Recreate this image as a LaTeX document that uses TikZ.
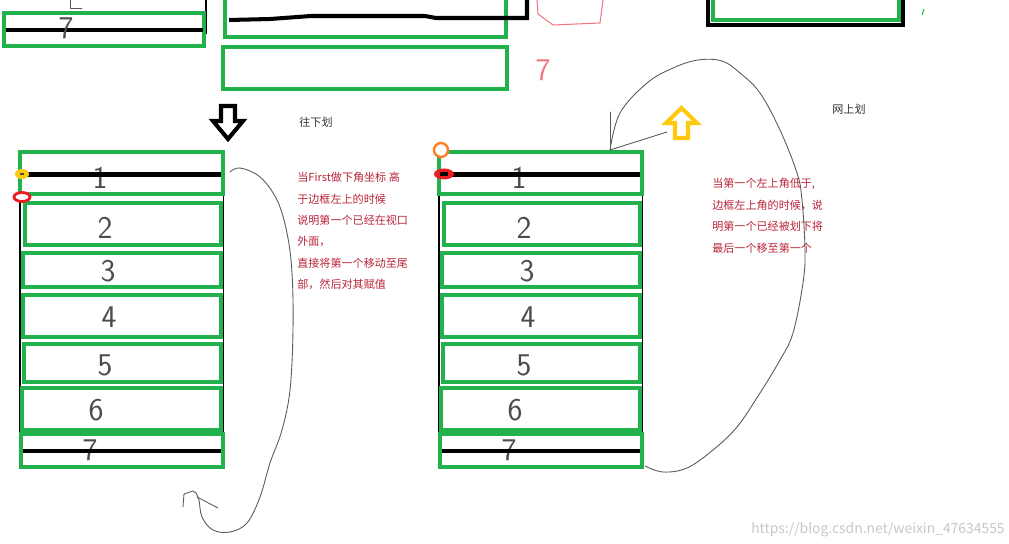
\documentclass[tikz,border=0pt]{standalone}
\usepackage{fontspec}
\newfontfamily\cjk{Noto Sans CJK SC}
\usetikzlibrary{arrows,positioning}
\definecolor{pgreen}{RGB}{34,177,76}
\definecolor{noteRed}{RGB}{185,35,55}
\definecolor{pgold}{RGB}{255,201,14}
\definecolor{porange}{RGB}{255,127,39}
\definecolor{pred}{RGB}{237,28,36}
\definecolor{ppink}{RGB}{240,120,130}

\begin{document}
\begin{tikzpicture}[x=0.02cm,y=-0.02cm,
    box/.style={draw=pgreen,line width=2.3pt},
    bar/.style={line width=2.3pt},
    rim/.style={line width=1.1pt},
    digit/.style={text=black!70,font=\sffamily\fontsize{18}{18}\selectfont,inner sep=0pt},
    note/.style={text=noteRed,font=\cjk\fontsize{6.3}{12.2}\selectfont,align=left,anchor=north west,inner sep=0pt},
    hint/.style={text=black!80,font=\cjk\fontsize{6.3}{7}\selectfont,inner sep=0pt},
    handline/.style={draw=black!65,line width=0.5pt,line join=round,line cap=round}]
      \useasboundingbox (0,0) rectangle (1009,544);
      \clip (0,0) rectangle (1009,544);

      % leftovers of the frames above
      \draw[rim] (206,0)--(206,34);
      \draw[box] (4,13) rectangle (204,46);
      \draw[bar] (6,30)--(203,30);
      \node[digit] (t7) at (66,28) {7};
      \draw[handline] (70,0)--(70,8)--(82,8);

      \draw[box] (225,-5) rectangle (506,37);
      \draw[bar] (229,20)--(270,19)--(311,16)--(425,16)--(436,18)--(527,18)--(527,0);
      \draw[box] (223,47) rectangle (507,89);
      \draw[ppink,line width=0.6pt] (537,0)--(538,14)--(553,25)--(600,23)--(603,0);
      \node[digit,text=ppink] (t7red) at (543,70) {7};

      \draw[line width=2.6pt] (708,0)--(708,25)--(903,25)--(903,0);
      \draw[box] (713,-5) rectangle (899,20);
      \draw[pgreen,line width=0.6pt] (922,15)--(924,9);

      % both stacks
      \foreach \dx/\s in {0/l,419/r}{
        \draw[rim] (\dx+20,195)--(\dx+20,452);
        \draw[rim] (\dx+223.5,195)--(\dx+223.5,452);
        \foreach \i/\xa/\ya/\xb/\yb/\cx/\cy in {1/20/152/223/194/100/178,
            2/25/203/221/245/105/228, 3/23/253/221/287/108/271,
            4/23/295/221/337/109/317, 5/24/344/221/382/105/365,
            6/22/388/221/430/96/410, 7/21/434/223/467/90/450}{
          \draw[box] (\dx+\xa,\ya) rectangle (\dx+\xb,\yb);
          \node[digit] (\s\i) at (\dx+\cx,\cy) {\i};
        }
        \draw[bar] (\dx+21,174.5)--(\dx+221,174.5);
        \draw[bar] (\dx+23,451)--(\dx+221,451);
      }

      % markers
      \fill[pgold] (22,174) ellipse [x radius=7,y radius=5];
      \draw[black!70,line width=0.6pt] (20,174)--(24,174);
      \draw[pred,fill=white,line width=1.6pt] (22,197) ellipse [x radius=8,y radius=4.5];
      \draw[porange,fill=white,line width=1.4pt] (441,150) circle [radius=7];
      \fill[pred] (444,174) ellipse [x radius=10,y radius=5.5];
      \draw[line width=2pt] (440,174)--(448,174);

      % block arrows
      \draw[line width=2.3pt,line join=miter] (221,106)--(235,106)--(235,121)--(243,121)
        --(228,139)--(213,121)--(221,121)--cycle;
      \draw[pgold,line width=2.3pt,line join=miter] (675,138)--(688,138)--(688,123)--(697,123)
        --(681.5,108)--(666,123)--(675,123)--cycle;
      \node[hint] (downhint) at (316,122) {往下划};
      \node[hint] (uphint) at (849,109) {网上划};

      % notes
      \node[note] (downnote) at (297,172) {当First做下角坐标 高\\于边框左上的时候\\说明第一个已经在视口\\外面，\\直接将第一个移动至尾\\部，然后对其赋值};
      \node[note] (upnote) at (712,178) {当第一个左上角低于,\\边框左上角的时候，说\\明第一个已经被划下将\\最后一个移至第一个};

      % hand drawn moves
      \coordinate (lfrom) at (230,172);
      \coordinate (lto) at (196,493);
      \draw[handline] plot[smooth,tension=0.6] coordinates {(lfrom) (240,168) (260,177)
        (277,200) (287,233) (292,273) (293,330) (290,390) (282,430) (270,463) (260,497)
        (247,523) (230,532) (213,530) (202,517) (199,500) (lto)};
      \draw[handline] (183,507)--(184,494)--(193,491)--(lto);
      \draw[handline] (197,497)--(218,508);

      \coordinate (rfrom) at (610,150);
      \coordinate (rto) at (645,466);
      \draw[handline] plot[smooth,tension=0.6] coordinates {(rfrom) (620,113) (647,83)
        (673,68) (698,60) (722,61) (740,73) (760,93) (780,130) (797,173) (802,200)
        (805,250) (803,283) (793,333) (780,360) (760,393) (737,427) (713,450) (687,468)
        (663,472) (rto)};
      \draw[handline] (610,112)--(rfrom);
      \draw[handline] (rfrom)--(667,132);

      \node[text=black!22,font=\cjk\fontsize{7.9}{9}\selectfont,anchor=east,inner sep=0pt]
        (mark) at (1005,530) {https://blog.csdn.net/weixin\_47634555};
    \end{tikzpicture}
\end{document}
